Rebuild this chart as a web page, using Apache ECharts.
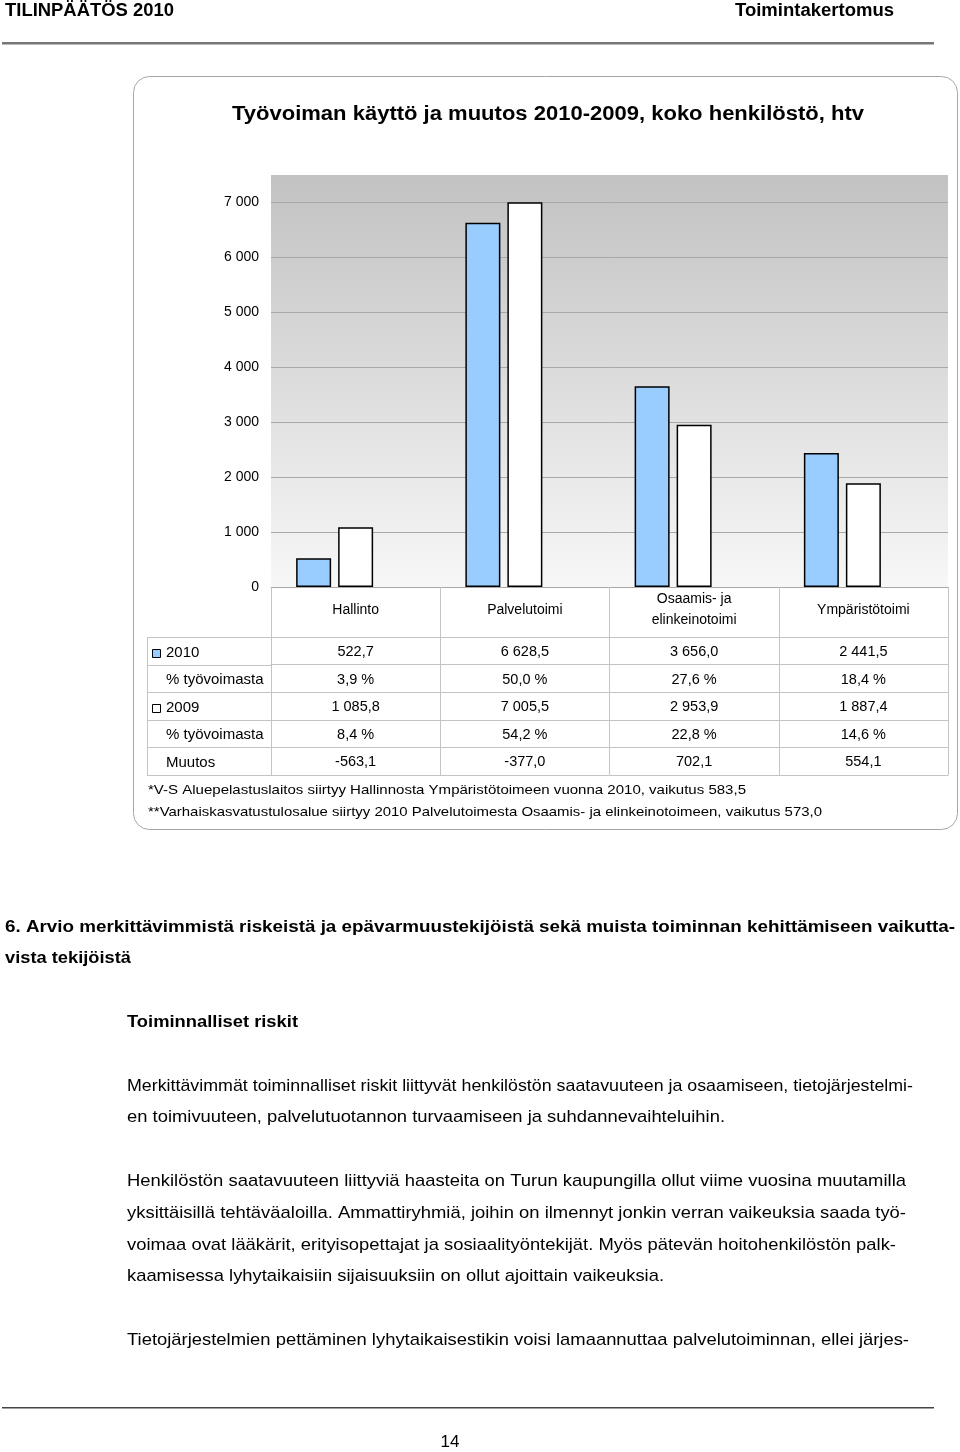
<!DOCTYPE html>
<html>
<head>
<meta charset="utf-8">
<script src="https://cdn.jsdelivr.net/npm/echarts@6/dist/echarts.min.js"></script>
<style>
html,body{margin:0;padding:0;background:#fff;}
#c{width:960px;height:1452px;}
</style>
</head>
<body>
<div id="c"></div>
<script>
// ---- data ----
const categories = ['Hallinto', 'Palvelutoimi', 'Osaamis- ja\nelinkeinotoimi', 'Ympäristötoimi'];
const values2010 = [522.7, 6628.5, 3656.0, 2441.5];
const share2010 = [3.9, 50.0, 27.6, 18.4];
const values2009 = [1085.8, 7005.5, 2953.9, 1887.4];
const share2009 = [8.4, 54.2, 22.8, 14.6];
const change = [-563.1, -377.0, 702.1, 554.1];
const rowLabels = ['2010', '% työvoimasta', '2009', '% työvoimasta', 'Muutos'];
const yTicks = {min: 0, max: 7500, interval: 1000};

const chartTitle = 'Työvoiman käyttö ja muutos 2010-2009, koko henkilöstö, htv';
const footnotes = [
  '*V-S Aluepelastuslaitos siirtyy Hallinnosta Ympäristötoimeen vuonna 2010, vaikutus 583,5',
  '**Varhaiskasvatustulosalue siirtyy 2010 Palvelutoimesta Osaamis- ja elinkeinotoimeen, vaikutus 573,0'
];
const headerLeft = 'TILINPÄÄTÖS 2010';
const headerRight = 'Toimintakertomus';
const bodyLines = [
  '6. Arvio merkittävimmistä riskeistä ja epävarmuustekijöistä sekä muista toiminnan kehittämiseen vaikutta-',
  'vista tekijöistä',
  'Toiminnalliset riskit',
  'Merkittävimmät toiminnalliset riskit liittyvät henkilöstön saatavuuteen ja osaamiseen, tietojärjestelmi-',
  'en toimivuuteen, palvelutuotannon turvaamiseen ja suhdannevaihteluihin.',
  'Henkilöstön saatavuuteen liittyviä haasteita on Turun kaupungilla ollut viime vuosina muutamilla',
  'yksittäisillä tehtäväaloilla. Ammattiryhmiä, joihin on ilmennyt jonkin verran vaikeuksia saada työ-',
  'voimaa ovat lääkärit, erityisopettajat ja sosiaalityöntekijät. Myös pätevän hoitohenkilöstön palk-',
  'kaamisessa lyhytaikaisiin sijaisuuksiin on ollut ajoittain vaikeuksia.',
  'Tietojärjestelmien pettäminen lyhytaikaisestikin voisi lamaannuttaa palvelutoiminnan, ellei järjes-'
];
const pageNumber = '14';

// ---- layout (not data) ----
const FONT = '"Liberation Sans", Arial, Helvetica, sans-serif';
const bodyLayout = [
  {x: 5, y: 927, w: 950, bold: true},
  {x: 5, y: 958, w: 126, bold: true},
  {x: 127, y: 1022, w: 171, bold: true},
  {x: 127, y: 1086, w: 786},
  {x: 127, y: 1117, w: 598},
  {x: 127, y: 1181, w: 779},
  {x: 127, y: 1213, w: 779},
  {x: 127, y: 1245, w: 769},
  {x: 127, y: 1276, w: 537},
  {x: 127, y: 1340, w: 782}
];

function fi(v, dec) {
  const neg = v < 0;
  let s = Math.abs(v).toFixed(dec);
  let parts = s.split('.');
  let i = parts[0].replace(/\B(?=(\d{3})+(?!\d))/g, ' ');
  return (neg ? '-' : '') + i + (parts.length > 1 ? ',' + parts[1] : '');
}
const mctx = document.createElement('canvas').getContext('2d');
function fitScale(text, size, weight, target) {
  mctx.font = (weight || 'normal') + ' ' + size + 'px ' + FONT;
  const w = mctx.measureText(text).width;
  return w > 0 ? target / w : 1;
}
function txt(text, x, y, size, weight, target, align) {
  const el = {
    type: 'text', x: x, y: y, z: 10,
    style: {text: text, fontSize: size, fontWeight: weight || 'normal', fontFamily: FONT,
            fill: '#000', verticalAlign: 'middle', align: align || 'left'}
  };
  if (target) el.scaleX = fitScale(text, size, weight, target);
  return el;
}

const PLOT_TOP = 175, PLOT_H = 412, PLOT_LEFT = 271, PLOT_W = 677;
const BAR_SHIFT = 21;
const ROW_H = 27.6, LABEL_ROW_H = 50;
const TABLE_LEFT = 147;
const plotBottom = PLOT_TOP + PLOT_H;

const rows = [
  values2010.map(v => fi(v, 1)),
  share2010.map(v => fi(v, 1) + ' %'),
  values2009.map(v => fi(v, 1)),
  share2009.map(v => fi(v, 1) + ' %'),
  change.map(v => fi(v, 1))
];

const tableLine = '#c4c4c4';
const xAxes = [{
  type: 'category', gridIndex: 0, position: 'bottom', data: categories,
  axisLine: {show: true, lineStyle: {color: '#a8a8a8', width: 1}},
  axisTick: {show: true, length: LABEL_ROW_H, lineStyle: {color: tableLine}},
  axisLabel: {interval: 0, margin: 23, verticalAlign: 'middle', fontSize: 14, lineHeight: 21,
              color: '#000', fontFamily: FONT},
  splitLine: {show: false}
}];
rows.forEach((r, i) => {
  xAxes.push({
    type: 'category', gridIndex: 0, position: 'bottom', data: r,
    offset: LABEL_ROW_H + ROW_H * i,
    axisLine: {show: true, lineStyle: {color: tableLine, width: 1}},
    axisTick: {show: true, length: ROW_H, lineStyle: {color: tableLine}},
    axisLabel: {interval: 0, margin: 15, verticalAlign: 'middle', fontSize: 14.5, color: '#000', fontFamily: FONT},
    splitLine: {show: false}
  });
});
xAxes.push({
  type: 'category', gridIndex: 0, position: 'bottom', data: categories,
  offset: LABEL_ROW_H + ROW_H * rows.length,
  axisLine: {show: true, lineStyle: {color: tableLine, width: 1}},
  axisTick: {show: false}, axisLabel: {show: false}, splitLine: {show: false}
});
const barXAxisIndex = xAxes.length;
xAxes.push({
  type: 'category', gridIndex: 1, data: categories, show: false
});

// graphics: page texts, box, table left column
const graphics = [];
graphics.push({type: 'rect', z: 1, shape: {x: 133.5, y: 76.5, width: 824, height: 753, r: 16},
  style: {fill: 'none', stroke: '#a6a6a6', lineWidth: 1}});
graphics.push({type: 'rect', z: 1, shape: {x: 2, y: 42, width: 932, height: 2.5}, style: {fill: '#777'}});
graphics.push({type: 'rect', z: 1, shape: {x: 2, y: 1407, width: 932, height: 1.5}, style: {fill: '#444'}});
graphics.push(txt(headerLeft, 5, 11, 18, 'bold', 169));
graphics.push(txt(headerRight, 735, 11, 18, 'bold', 159));
graphics.push(txt(chartTitle, 548, 114, 20, 'bold', 632, 'center'));
footnotes.forEach((f, i) => graphics.push(txt(f, 148, 790 + 22 * i, 13, 'normal', [598, 674][i])));
bodyLines.forEach((t, i) => {
  const L = bodyLayout[i];
  graphics.push(txt(t, L.x, L.y, 17, L.bold ? 'bold' : 'normal', L.w));
});
graphics.push(txt(pageNumber, 450, 1442, 17, 'normal', null, 'center'));

// table left column
const tableTop = plotBottom + LABEL_ROW_H;
for (let i = 0; i <= rows.length; i++) {
  const y = Math.round(tableTop + ROW_H * i) + 0.5;
  graphics.push({type: 'line', z: 5, shape: {x1: TABLE_LEFT, y1: y, x2: PLOT_LEFT, y2: y},
    style: {stroke: tableLine, lineWidth: 1}});
}
graphics.push({type: 'line', z: 5, shape: {x1: TABLE_LEFT + 0.5, y1: tableTop, x2: TABLE_LEFT + 0.5, y2: tableTop + ROW_H * rows.length},
  style: {stroke: tableLine, lineWidth: 1}});
rowLabels.forEach((lab, i) => {
  const yc = tableTop + ROW_H * i + 15.5;
  const isYear = (i === 0 || i === 2);
  graphics.push(txt(lab, 166, yc, 15, 'normal'));
  if (isYear) {
    graphics.push({type: 'rect', z: 6, shape: {x: 152.5, y: Math.round(yc - 4) + 0.5, width: 8, height: 8},
      style: {fill: i === 0 ? '#99ccff' : '#ffffff', stroke: '#000', lineWidth: 1}});
  }
});

const option = {
  backgroundColor: '#fff',
  animation: false,
  textStyle: {fontFamily: FONT},
  grid: [
    {left: PLOT_LEFT, top: PLOT_TOP, width: PLOT_W, height: PLOT_H, show: true, borderWidth: 0,
     backgroundColor: {type: 'linear', x: 0, y: 0, x2: 0, y2: 1,
       colorStops: [{offset: 0, color: '#c2c2c2'}, {offset: 1, color: '#f7f7f7'}]}},
    {left: PLOT_LEFT - BAR_SHIFT, top: PLOT_TOP, width: PLOT_W, height: PLOT_H}
  ],
  xAxis: xAxes,
  yAxis: [
    {type: 'value', gridIndex: 0, min: yTicks.min, max: yTicks.max, interval: yTicks.interval,
     axisLine: {show: false}, axisTick: {show: false},
     axisLabel: {fontSize: 14, color: '#000', margin: 12, showMaxLabel: false, fontFamily: FONT,
                 formatter: v => fi(v, 0)},
     splitLine: {show: true, showMaxLine: false, lineStyle: {color: '#a8a8a8', width: 1}}},
    {type: 'value', gridIndex: 1, min: yTicks.min, max: yTicks.max, interval: yTicks.interval, show: false,
     splitLine: {show: false}}
  ],
  series: [
    {name: '2010', type: 'bar', xAxisIndex: barXAxisIndex, yAxisIndex: 1, data: values2010,
     barWidth: 35, barGap: '20%', z: 5,
     itemStyle: {color: '#99ccff', borderColor: '#000', borderWidth: 1.5}},
    {name: '2009', type: 'bar', xAxisIndex: barXAxisIndex, yAxisIndex: 1, data: values2009,
     barWidth: 35, barGap: '20%', z: 5,
     itemStyle: {color: '#ffffff', borderColor: '#000', borderWidth: 1.5}}
  ],
  graphic: {elements: graphics}
};

const chart = echarts.init(document.getElementById('c'), null, {renderer: 'canvas'});
chart.setOption(option);
</script>
</body>
</html>
